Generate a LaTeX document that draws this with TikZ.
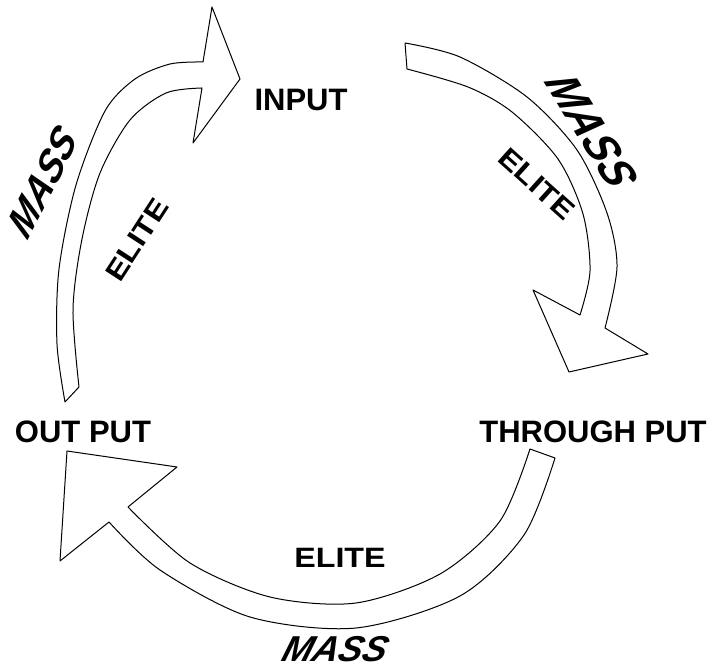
\documentclass[tikz,border=0pt]{standalone}
\usepackage{fontspec}
\setmainfont{Liberation Sans}
\begin{document}
\begin{tikzpicture}[x=1pt, y=1pt, line join=round,
  blockarrow/.style={draw, line width=1pt, fill=white},
  stage/.style={font=\bfseries\fontsize{31}{31}\selectfont, inner sep=0pt},
  mass/.style={font=\bfseries\itshape\fontsize{#1}{#1}\selectfont, xslant=0.3, inner sep=0pt},
  elite/.style={font=\bfseries\fontsize{28}{28}\selectfont, xscale=1.15, inner sep=0pt}]
\useasboundingbox (0,0) rectangle (712,669);
% left arrow, up to the input
\draw[blockarrow] plot[smooth] coordinates {(65,267) (57,325) (59,400) (76,484) (105,558) (135,590) (170,605) (203,607)}
  -- (212,662) -- (240,590) -- (193,526) -- (202,581)
  -- plot[smooth] coordinates {(202,581) (166,576) (130,549) (100,496) (82,430) (73,360) (79,282)} -- cycle;
% right arrow, down to the through put
\draw[blockarrow] plot[smooth] coordinates {(405,626) (460,612) (527,572) (577,519) (607,456) (617,402) (605,341)}
  -- (648,315) -- (569,297) -- (533,379) -- (580,354)
  -- plot[smooth] coordinates {(580,354) (590,398) (583,455) (558,510) (512,557) (468,582) (407,600)} -- cycle;
% bottom arrow, back to the out put
\draw[blockarrow] plot[smooth] coordinates {(555,211) (524,134) (460,73) (356,41) (250,52) (160,99) (109,147)}
  -- (60,108) -- (67,218) -- (177,202) -- (128,162)
  -- plot[smooth] coordinates {(128,162) (190,106) (270,72) (356,66) (440,95) (500,148) (530,220)} -- cycle;
% stages
\node[stage] (input) at (301,569) {INPUT};
\node[stage] (through) at (593,237) {THROUGH PUT};
\node[stage] (output) at (83,237) {OUT PUT};
% words along the arrows
\node[rotate=63, mass=39] (massL) at (43,487) {MASS};
\node[rotate=57, elite] (eliteL) at (137,429) {ELITE};
\node[rotate=-58, mass=44] (massR) at (592,538) {MASS};
\node[rotate=-42, elite] (eliteR) at (537,485) {ELITE};
\node[elite] (eliteB) at (340,111) {ELITE};
\node[mass=36] (massB) at (336,20) {MASS};
\end{tikzpicture}
\end{document}
